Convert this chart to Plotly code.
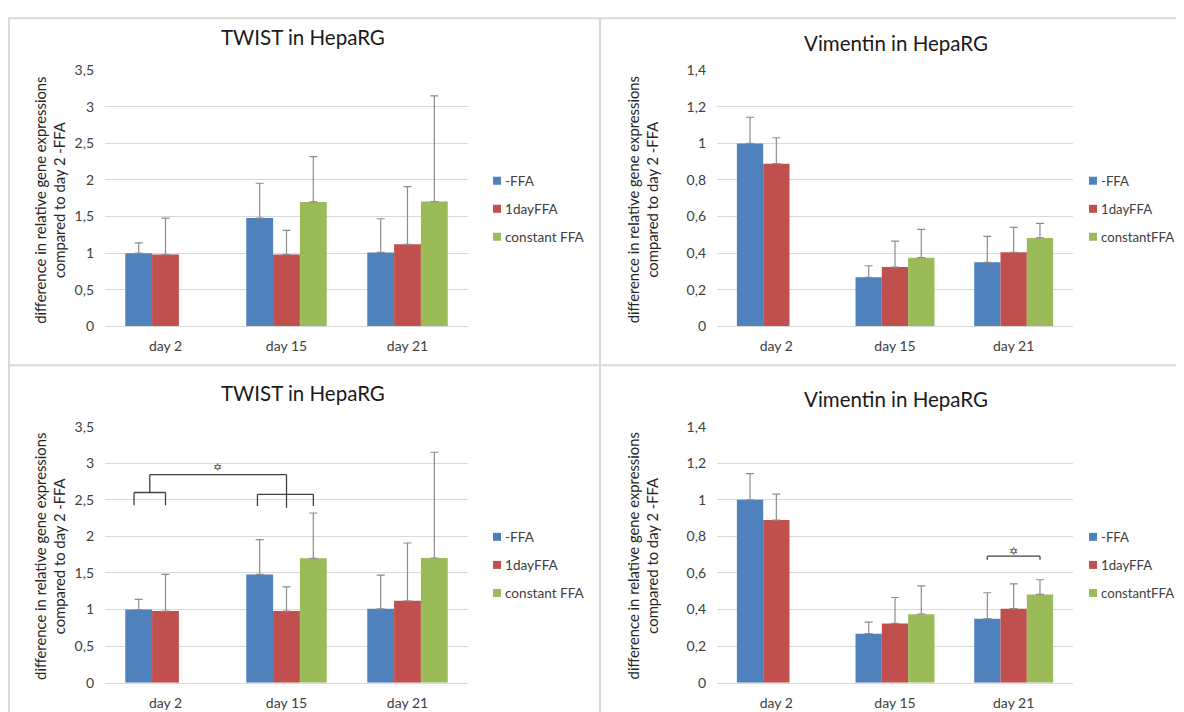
import plotly.graph_objects as go

# ---------------- data ----------------
days = ["day 2", "day 15", "day 21"]

twist_noffa = [1.00, 1.48, 1.01]
twist_1day = [0.98, 0.98, 1.12]
twist_const = [None, 1.70, 1.705]
twist_noffa_err = [0.14, 0.475, 0.46]
twist_1day_err = [0.50, 0.33, 0.79]
twist_const_err = [0.0, 0.62, 1.445]

vim_noffa = [1.00, 0.268, 0.35]
vim_1day = [0.889, 0.324, 0.405]
vim_const = [None, 0.375, 0.483]
vim_noffa_err = [0.143, 0.063, 0.142]
vim_1day_err = [0.142, 0.142, 0.136]
vim_const_err = [0.0, 0.155, 0.080]

twist_names = ["-FFA", "1dayFFA", "constant FFA"]
vim_names = ["-FFA", "1dayFFA", "constantFFA"]
twist_title = "TWIST in HepaRG"
vim_title = "Vimentin in HepaRG"
ytitle = "difference in relative gene expressions<br>compared to day 2 -FFA"

# ---------------- style ----------------
COLORS = ["#4F81BD", "#C0504D", "#9BBB59"]
FONT = "Lato, 'Open Sans', sans-serif"
GRID = "#D9D9D9"
TXT = "#404040"
ERRC = "#8C8C8C"

# mapping from window pixels (as in the reference) to figure pixels
OFF_X = 8        # page body margin
OFF_Y = 17.2     # figure top offset on the page
SCALE_Y = 0.9758 # vertical scale of the photograph
W, H = 1168, 712


def px(x):
    return (x - OFF_X) / W


def py(y):
    return 1 - (y / SCALE_Y - OFF_Y) / H


fig = go.Figure()

panels = [
    ("", [twist_noffa, twist_1day, twist_const],
     [twist_noffa_err, twist_1day_err, twist_const_err], twist_names),
    ("2", [vim_noffa, vim_1day, vim_const],
     [vim_noffa_err, vim_1day_err, vim_const_err], vim_names),
    ("3", [twist_noffa, twist_1day, twist_const],
     [twist_noffa_err, twist_1day_err, twist_const_err], twist_names),
    ("4", [vim_noffa, vim_1day, vim_const],
     [vim_noffa_err, vim_1day_err, vim_const_err], vim_names),
]

for suf, vals, errs, names in panels:
    for i in range(3):
        fig.add_trace(go.Bar(
            x=days, y=vals[i], name=names[i],
            marker=dict(color=COLORS[i], line=dict(width=0)),
            error_y=dict(type="data", symmetric=False, array=errs[i],
                         arrayminus=[0] * len(errs[i]),
                         color=ERRC, thickness=1.2, width=4),
            xaxis="x" + suf, yaxis="y" + suf, showlegend=False,
        ))

# plot-area geometry (window pixels)
left_x = (105, 468)
right_x = (717, 1073)
top_y = (70, 326)
bot_y = (426.3, 682.3)


def xdom(r):
    return [px(r[0]), px(r[1])]


def ydom(r):
    return [py(r[1]), py(r[0])]


axis_font = dict(family=FONT, size=14, color=TXT)


def yax(rng, dtick, dom, anchor):
    return dict(range=rng, dtick=dtick, domain=dom, anchor=anchor,
                showgrid=True, gridcolor=GRID, gridwidth=1, zeroline=False,
                showline=False, ticks="", tickfont=axis_font,
                ticklabelstandoff=10, fixedrange=True)


def xax(dom, anchor):
    return dict(domain=dom, anchor=anchor, showgrid=False, showline=True,
                linecolor=GRID, linewidth=1, ticks="", tickfont=axis_font,
                ticklabelstandoff=7, range=[-0.5, 2.5], fixedrange=True)


fig.update_layout(
    width=W, height=H, margin=dict(l=0, r=0, t=0, b=0),
    paper_bgcolor="white", plot_bgcolor="white",
    barmode="group", bargap=0.335, bargroupgap=0,
    separators=",.",
    font=dict(family=FONT, color=TXT),
    xaxis=xax(xdom(left_x), "y"), yaxis=yax([0, 3.5], 0.5, ydom(top_y), "x"),
    xaxis2=xax(xdom(right_x), "y2"), yaxis2=yax([0, 1.4], 0.2, ydom(top_y), "x2"),
    xaxis3=xax(xdom(left_x), "y3"), yaxis3=yax([0, 3.5], 0.5, ydom(bot_y), "x3"),
    xaxis4=xax(xdom(right_x), "y4"), yaxis4=yax([0, 1.4], 0.2, ydom(bot_y), "x4"),
)

shapes = []
annotations = []

# panel borders (top border as high as the figure allows)
top_border = py(18)
for xb in (9, 600):
    shapes.append(dict(type="line", xref="paper", yref="paper",
                       x0=px(xb), x1=px(xb), y0=top_border, y1=0,
                       line=dict(color="#D9D9D9", width=2)))
for yb in (top_border, py(365)):
    shapes.append(dict(type="line", xref="paper", yref="paper",
                       x0=px(8), x1=1, y0=yb, y1=yb,
                       line=dict(color="#D9D9D9", width=2)))

# titles and y-axis titles
for title, cx, cy in [(twist_title, 303, 37), (vim_title, 896, 43),
                      (twist_title, 303, 393), (vim_title, 896, 399)]:
    annotations.append(dict(text=title, x=px(cx), y=py(cy), xref="paper",
                            yref="paper", showarrow=False, xanchor="center",
                            yanchor="middle",
                            font=dict(family=FONT, size=20.5, color="#1A1A1A")))

for cx, cy in [(49.5, 200), (642, 200), (49.5, 556), (642, 556)]:
    annotations.append(dict(text=ytitle, x=px(cx), y=py(cy), xref="paper",
                            yref="paper", showarrow=False, textangle=-90,
                            xanchor="center", yanchor="middle",
                            font=dict(family=FONT, size=14.8, color="#262626")))

# manual legends
for lx, ly0, names, fs in [(493, 180.5, twist_names, 13.6), (1089, 180.5, vim_names, 13.2),
                           (493, 536.5, twist_names, 13.6), (1089, 536.5, vim_names, 13.2)]:
    for i, nm in enumerate(names):
        cy = ly0 + 28 * i
        shapes.append(dict(type="rect", xref="paper", yref="paper",
                           x0=px(lx), x1=px(lx + 8), y0=py(cy + 4), y1=py(cy - 4),
                           fillcolor=COLORS[i], line=dict(width=0)))
        annotations.append(dict(text=nm, x=px(lx + 10), y=py(cy), xref="paper",
                                yref="paper", showarrow=False, xanchor="left",
                                yanchor="middle",
                                font=dict(family=FONT, size=fs, color=TXT)))

# significance brackets (data coordinates)
BR = "#404040"
twist_segments = [
    (-0.26, 2.60, 0.0, 2.60), (-0.26, 2.60, -0.26, 2.425), (0.0, 2.60, 0.0, 2.425),
    (-0.13, 2.60, -0.13, 2.845), (-0.13, 2.845, 1.0, 2.845),
    (0.76, 2.575, 1.222, 2.575), (0.76, 2.575, 0.76, 2.415), (1.222, 2.575, 1.222, 2.415),
    (1.0, 2.845, 1.0, 2.39),
]
for (x0, y0, x1, y1) in twist_segments:
    shapes.append(dict(type="line", xref="x3", yref="y3", x0=x0, y0=y0, x1=x1, y1=y1,
                       line=dict(color=BR, width=1.3)))
annotations.append(dict(text="✡", x=0.43, y=2.94, xref="x3", yref="y3",
                        showarrow=False, font=dict(family="DejaVu Sans", size=11, color=BR)))

vim_segments = [
    (1.778, 0.692, 2.222, 0.692), (1.778, 0.692, 1.778, 0.673), (2.222, 0.692, 2.222, 0.673),
]
for (x0, y0, x1, y1) in vim_segments:
    shapes.append(dict(type="line", xref="x4", yref="y4", x0=x0, y0=y0, x1=x1, y1=y1,
                       line=dict(color=BR, width=1.3)))
annotations.append(dict(text="✡", x=2.0, y=0.72, xref="x4", yref="y4",
                        showarrow=False, font=dict(family="DejaVu Sans", size=11, color=BR)))

fig.update_layout(shapes=shapes, annotations=annotations)

fig.write_html("out.html")
